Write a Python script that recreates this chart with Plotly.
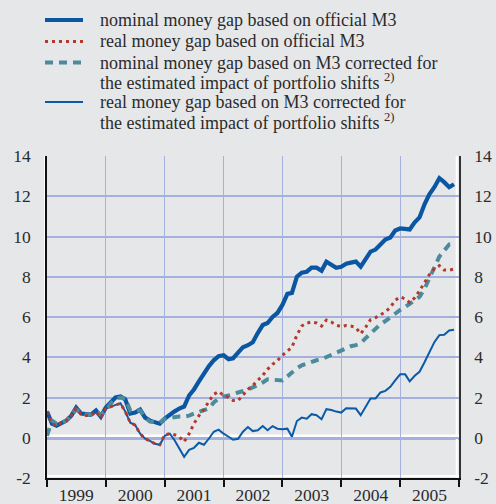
import pandas as pd
import plotly.graph_objects as go

# monthly observations, January 1999 - December 2005
months = pd.date_range("1999-01-01", periods=84, freq="MS")

nominal_official = [
    1.3, 0.7, 0.6, 0.75, 0.85, 1.1, 1.5, 1.2, 1.15, 1.15, 1.35, 1.05,
    1.5, 1.8, 2.0, 2.05, 1.9, 1.2, 1.25, 1.4, 1.0, 0.85, 0.75, 0.7,
    0.95, 1.15, 1.3, 1.45, 1.55, 2.1, 2.4, 2.8, 3.2, 3.55, 3.85, 4.05,
    4.1, 3.9, 3.95, 4.2, 4.5, 4.6, 4.75, 5.2, 5.6, 5.7, 6.0, 6.2,
    6.6, 7.15, 7.2, 8.0, 8.2, 8.25, 8.45, 8.45, 8.3, 8.75, 8.6, 8.45,
    8.5, 8.65, 8.7, 8.75, 8.5, 8.9, 9.25, 9.35, 9.6, 9.85, 9.95, 10.3,
    10.4, 10.4, 10.35, 10.7, 10.95, 11.6, 12.1, 12.45, 12.9, 12.7, 12.45, 12.6,
]

real_official = [
    1.3, 0.7, 0.6, 0.75, 0.85, 1.1, 1.45, 1.2, 1.1, 1.1, 1.3, 1.0,
    1.45, 1.55, 1.63, 1.7, 1.3, 0.75, 0.63, 0.2, -0.05, -0.15, -0.3, -0.35,
    0.15, 0.2, 0.15, 0.05, -0.2, 0.2, 0.7, 1.1, 1.4, 1.8, 2.15, 2.3,
    2.1, 2.0, 1.85, 1.85, 2.13, 2.4, 2.6, 2.85, 3.1, 3.4, 3.65, 3.83,
    4.1, 4.3, 4.5, 5.1, 5.55, 5.7, 5.75, 5.7, 5.55, 5.85, 5.75, 5.6,
    5.52, 5.58, 5.55, 5.47, 5.17, 5.5, 5.87, 5.97, 6.1, 6.25, 6.48, 6.83,
    7.0, 6.9, 6.72, 6.95, 7.3, 7.7, 8.1, 8.4, 8.55, 8.33, 8.33, 8.38,
]

nominal_corrected = [
    0.1, 0.85, 0.7, 0.75, 0.85, 1.1, 1.4, 1.25, 1.15, 1.15, 1.3, 1.15,
    1.35, 1.7, 1.95, 2.0, 1.95, 1.35, 1.4, 1.35, 1.0, 0.8, 0.75, 0.75,
    0.95, 1.0, 1.05, 1.05, 1.05, 1.1, 1.2, 1.3, 1.35, 1.45, 1.75, 1.95,
    2.05, 2.1, 2.15, 2.25, 2.3, 2.4, 2.5, 2.6, 2.75, 2.9, 2.9, 2.85,
    2.85, 3.05, 3.25, 3.45, 3.6, 3.7, 3.8, 3.85, 3.9, 4.0, 4.15, 4.25,
    4.3, 4.45, 4.55, 4.6, 4.7, 4.95, 5.2, 5.4, 5.65, 5.8, 6.0, 6.2,
    6.35, 6.5, 6.65, 6.8, 7.0, 7.4, 7.9, 8.4, 9.0, 9.3, 9.6, 9.6,
]

real_corrected = [
    1.3, 0.7, 0.6, 0.75, 0.85, 1.1, 1.45, 1.2, 1.1, 1.1, 1.3, 1.0,
    1.45, 1.55, 1.63, 1.72, 1.3, 0.75, 0.63, 0.2, -0.05, -0.15, -0.3, -0.35,
    0.1, 0.2, -0.1, -0.5, -0.95, -0.6, -0.5, -0.25, -0.35, -0.05, 0.3, 0.4,
    0.2, 0.05, -0.1, -0.05, 0.3, 0.53, 0.33, 0.37, 0.58, 0.37, 0.58, 0.45,
    0.42, 0.45, 0.05, 0.83, 1.0, 0.95, 1.17, 1.12, 0.92, 1.42, 1.38, 1.3,
    1.25, 1.47, 1.46, 1.45, 1.12, 1.53, 1.95, 1.95, 2.25, 2.33, 2.53, 2.85,
    3.15, 3.15, 2.8, 3.08, 3.28, 3.75, 4.25, 4.75, 5.1, 5.12, 5.33, 5.37,
]

years = [1999, 2000, 2001, 2002, 2003, 2004, 2005]
y_ticks = [-2, 0, 2, 4, 6, 8, 10, 12, 14]
y_tick_labels = ["-2", "0", "2", "4", "6", "8", "10", "12", "14"]

legend_labels = [
    ["nominal money gap based on official M3"],
    ["real money gap based on official M3"],
    ["nominal money gap based on M3 corrected for",
     "the estimated impact of portfolio shifts <sup>2)</sup>"],
    ["real money gap based on M3 corrected for",
     "the estimated impact of portfolio shifts <sup>2)</sup>"],
]

BG = "#e6e7e9"
GRID = "#a4b1de"
TEXT = "#2b2b2b"
FONT = "Liberation Serif, Times New Roman, serif"

THICK_BLUE = "#0b56a3"
THIN_BLUE = "#0b5aa8"
RED = "#b5382c"
TEAL = "#4b8b9c"

W, H = 496, 504
L, R, T, B = 47, 459, 156, 478


def px_x(px):
    return (px - L) / (R - L)


def px_y(py):
    return (B - py) / (B - T)


fig = go.Figure()

series = [
    (nominal_official, dict(color=THICK_BLUE, width=4.2)),
    (real_corrected, dict(color=THIN_BLUE, width=2)),
    (nominal_corrected, dict(color=TEAL, width=4, dash="8px,6px")),
    (real_official, dict(color=RED, width=3, dash="3px,4px")),
]
for values, line in series:
    fig.add_trace(
        go.Scatter(
            x=months,
            y=values,
            mode="lines",
            line=line,
            showlegend=False,
            hoverinfo="skip",
        )
    )

# empty trace so the right-hand axis is drawn
fig.add_trace(go.Scatter(x=[], y=[], yaxis="y2", showlegend=False))

year_starts = [f"{y}-01-01" for y in years] + ["2006-01-01"]
year_mids = [f"{y}-07-02" for y in years]

tick_font = dict(family=FONT, size=17.5, color=TEXT)

fig.update_layout(
    template="none",
    width=W,
    height=H,
    margin=dict(l=L, r=W - R, t=T, b=H - B, pad=0),
    paper_bgcolor=BG,
    plot_bgcolor=BG,
    font=dict(family=FONT, size=17.5, color=TEXT),
    showlegend=False,
    xaxis=dict(
        automargin=False,
        range=["1999-01-01", "2006-01-01"],
        tickvals=year_mids,
        ticktext=[str(y) for y in years],
        ticks="",
        showgrid=False,
        showline=True,
        linecolor="#111111",
        linewidth=1.5,
        zeroline=False,
        tickfont=tick_font,
        minor=dict(
            tickvals=year_starts,
            ticks="outside",
            ticklen=7,
            tickwidth=1.5,
            tickcolor="#111111",
            showgrid=True,
            gridcolor=GRID,
            gridwidth=1,
        ),
    ),
    yaxis=dict(
        automargin=False,
        range=[-2, 14],
        tickvals=y_ticks,
        ticktext=y_tick_labels,
        ticks="",
        ticklabelstandoff=11,
        showgrid=True,
        gridcolor=GRID,
        gridwidth=1.5,
        zeroline=False,
        showline=True,
        linecolor="#111111",
        linewidth=1.5,
        tickfont=tick_font,
    ),
    yaxis2=dict(
        automargin=False,
        range=[-2, 14],
        tickvals=y_ticks,
        ticktext=y_tick_labels,
        overlaying="y",
        side="right",
        ticks="",
        ticklabelstandoff=10,
        showgrid=False,
        zeroline=False,
        showline=True,
        linecolor="#333333",
        linewidth=1.5,
        tickfont=tick_font,
    ),
)

# white/black double rule on zero line and axes
fig.add_shape(type="line", xref="paper", yref="y", x0=0, x1=1, y0=0.1, y1=0.1,
              line=dict(color="white", width=2.5), layer="below")
fig.add_shape(type="line", xref="paper", yref="y", x0=0, x1=1, y0=-0.04, y1=-0.04,
              line=dict(color="#111111", width=1.3), layer="below")
fig.add_shape(type="line", xref="paper", yref="paper", x0=0, x1=1,
              y0=px_y(476), y1=px_y(476),
              line=dict(color="white", width=2), layer="below")
fig.add_shape(type="line", xref="paper", yref="paper", x0=px_x(45), x1=px_x(45),
              y0=0, y1=1, line=dict(color="white", width=2), layer="below")
fig.add_shape(type="line", xref="paper", yref="paper", x0=px_x(456.7), x1=px_x(456.7),
              y0=0, y1=1, line=dict(color="white", width=2), layer="below")

# hand-built legend above the plot
sample_styles = [
    dict(color=THICK_BLUE, width=4.2),
    dict(color=RED, width=3, dash="3px,4px"),
    dict(color=TEAL, width=4, dash="8px,6px"),
    dict(color=THIN_BLUE, width=2),
]
row_y = [20, 41.5, 62.5, 102]
for labels, style, y0 in zip(legend_labels, sample_styles, row_y):
    fig.add_shape(
        type="line", xref="paper", yref="paper",
        x0=px_x(45), x1=px_x(83), y0=px_y(y0), y1=px_y(y0),
        line=style,
    )
    for k, text in enumerate(labels):
        fig.add_annotation(
            xref="paper", yref="paper",
            x=px_x(98), y=px_y(y0 + 19.5 * k),
            text=text, showarrow=False,
            xanchor="left", yanchor="middle",
            font=dict(family=FONT, size=18, color=TEXT),
        )

# drop the page's default body margin so the figure sits at the top-left corner
fig.write_html(
    "out.html",
    config={"displayModeBar": False},
    post_script=f"document.body.style.margin='0';document.body.style.background='{BG}';",
)
